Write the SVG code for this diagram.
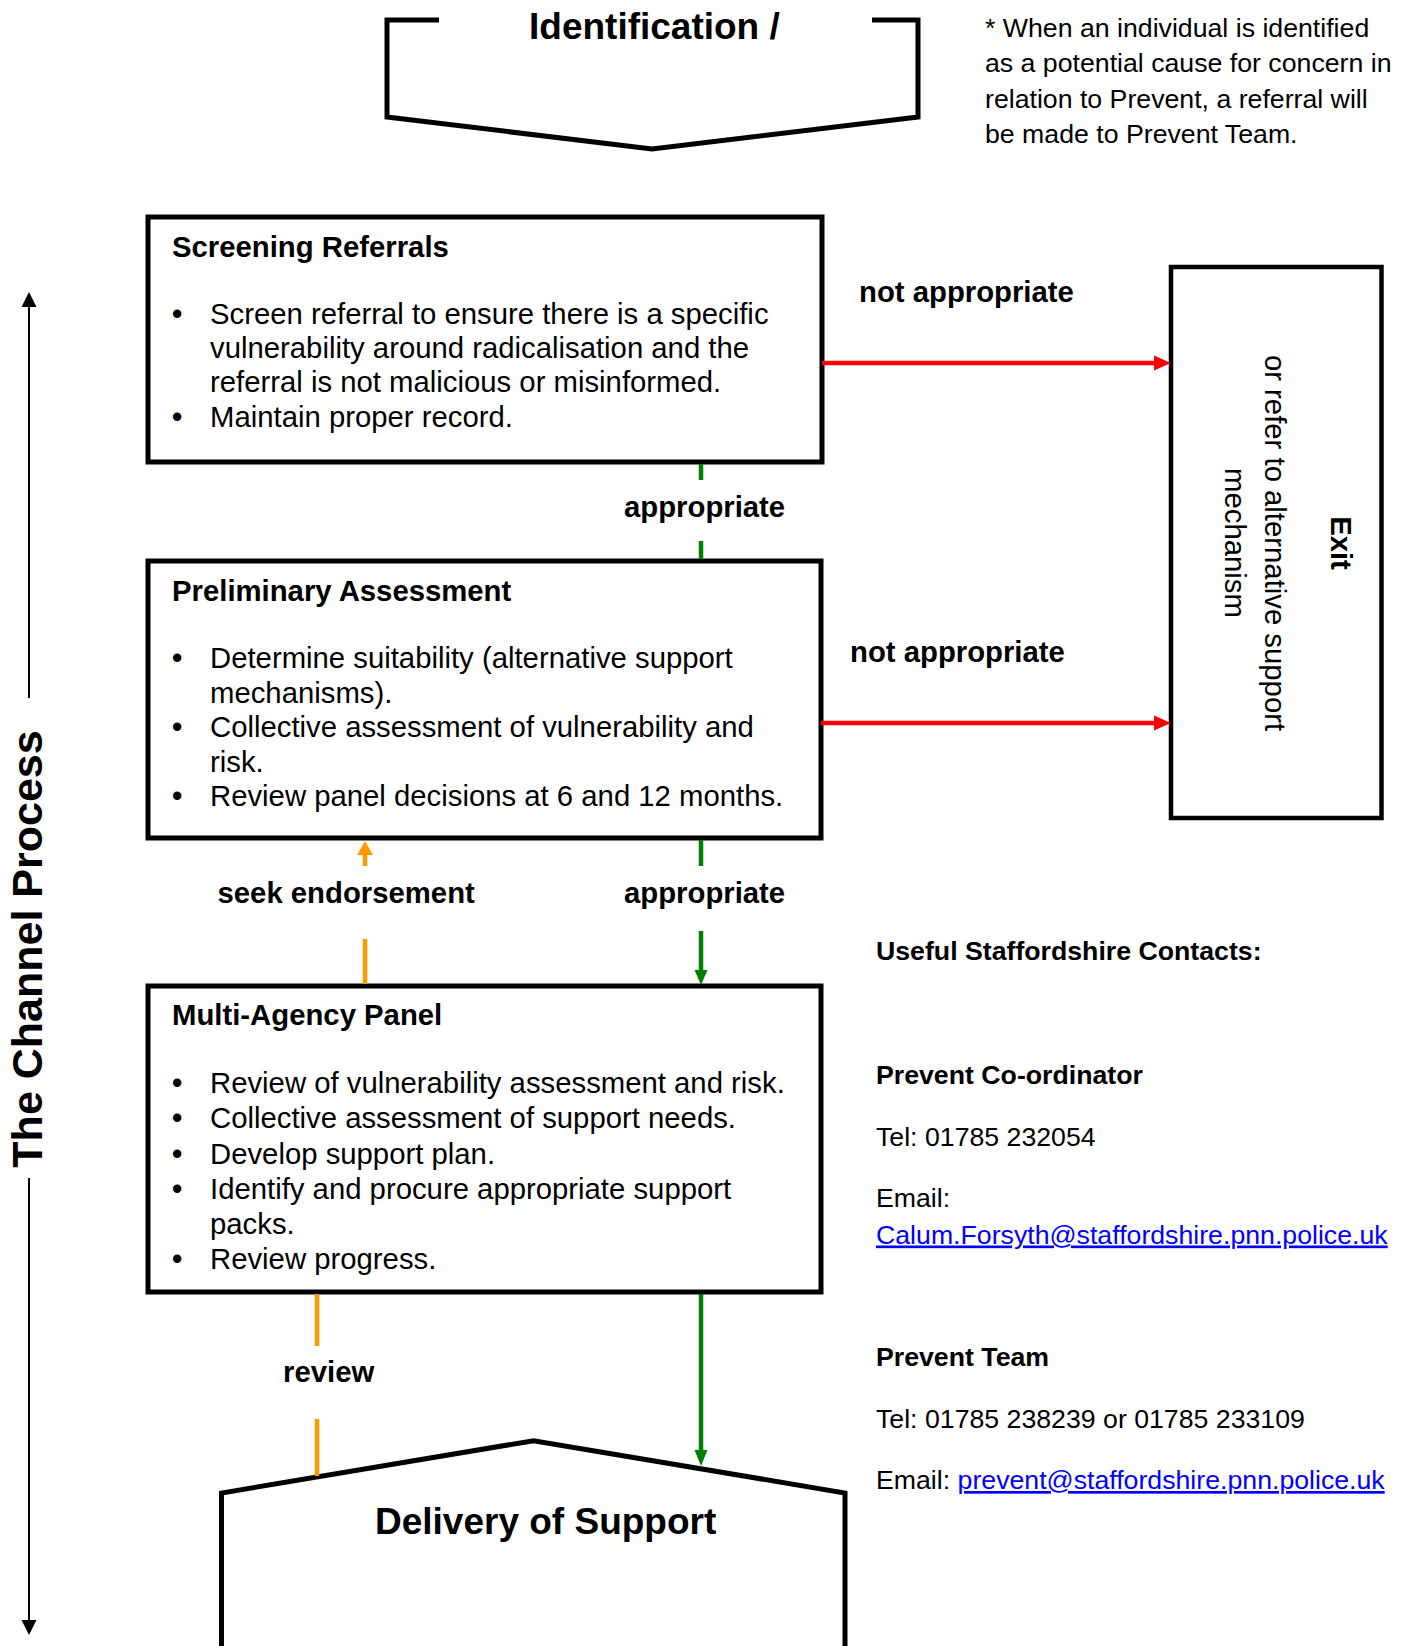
<svg xmlns="http://www.w3.org/2000/svg" width="1405" height="1646" viewBox="0 0 1405 1646">
<style>
text{font-family:"Liberation Sans",Arial,sans-serif;fill:#000}
.b{font-weight:bold}
.h{font-size:29.3px;font-weight:bold}
.t{font-size:29.3px}
.bu{font-size:29.3px;font-weight:bold}
.s{font-size:26.7px}
.big{font-size:37px;font-weight:bold}
.box{fill:#fff;stroke:#000;stroke-width:5}
.lnk{fill:#0000ff;text-decoration:underline}
.red{stroke:#ff0000;stroke-width:4.5;fill:none}
.grn{stroke:#008000;stroke-width:4.5;fill:none}
.org{stroke:#ff9900;stroke-width:4.5;fill:none}
</style>
<g id="identification">
<polyline points="439,20 387,20 387,117 652,149 918,117 918,20 872,20" fill="none" stroke="#000" stroke-width="5"/>
<text class="big" x="529" y="39">Identification /</text>
</g>
<g id="note">
<text class="s" x="985" y="36.5">* When an individual is identified</text>
<text class="s" x="985" y="72">as a potential cause for concern in</text>
<text class="s" x="985" y="107.5">relation to Prevent, a referral will</text>
<text class="s" x="985" y="143">be made to Prevent Team.</text>
</g>
<g id="screening">
<rect class="box" x="148" y="217" width="674" height="245"/>
<text class="h" x="172" y="257">Screening Referrals</text>
<text class="bu" x="172" y="324">•</text>
<text class="t" x="210" y="324">Screen referral to ensure there is a specific</text>
<text class="t" x="210" y="358">vulnerability around radicalisation and the</text>
<text class="t" x="210" y="392">referral is not malicious or misinformed.</text>
<text class="bu" x="172" y="426.5">•</text>
<text class="t" x="210" y="426.5">Maintain proper record.</text>
</g>
<g id="preliminary">
<rect class="box" x="148" y="561" width="673" height="277"/>
<text class="h" x="172" y="601">Preliminary Assessment</text>
<text class="bu" x="172" y="668">•</text>
<text class="t" x="210" y="668">Determine suitability (alternative support</text>
<text class="t" x="210" y="702.5">mechanisms).</text>
<text class="bu" x="172" y="737">•</text>
<text class="t" x="210" y="737">Collective assessment of vulnerability and</text>
<text class="t" x="210" y="771.5">risk.</text>
<text class="bu" x="172" y="806">•</text>
<text class="t" x="210" y="806">Review panel decisions at 6 and 12 months.</text>
</g>
<g id="multiagency">
<rect class="box" x="148" y="986" width="673" height="306"/>
<text class="h" x="172" y="1025">Multi-Agency Panel</text>
<text class="bu" x="172" y="1093">•</text>
<text class="t" x="210" y="1093">Review of vulnerability assessment and risk.</text>
<text class="bu" x="172" y="1128">•</text>
<text class="t" x="210" y="1128">Collective assessment of support needs.</text>
<text class="bu" x="172" y="1163.5">•</text>
<text class="t" x="210" y="1163.5">Develop support plan.</text>
<text class="bu" x="172" y="1198.5">•</text>
<text class="t" x="210" y="1198.5">Identify and procure appropriate support</text>
<text class="t" x="210" y="1233.5">packs.</text>
<text class="bu" x="172" y="1269">•</text>
<text class="t" x="210" y="1269">Review progress.</text>
</g>
<g id="exit">
<rect x="1171" y="267" width="210.5" height="551" fill="#fff" stroke="#000" stroke-width="4.5"/>
<text class="h" text-anchor="middle" transform="translate(1331,543) rotate(90)">Exit</text>
<text class="t" text-anchor="middle" transform="translate(1265,543) rotate(90)">or refer to alternative support</text>
<text class="t" text-anchor="middle" transform="translate(1225,543) rotate(90)">mechanism</text>
</g>
<g id="delivery">
<polyline points="221.5,1646 221.5,1493 533.6,1440.7 845,1493 845,1646" fill="#fff" stroke="#000" stroke-width="5"/>
<text class="big" x="375" y="1534">Delivery of Support</text>
</g>
<g id="channel">
<text class="b" style="font-size:43px" text-anchor="middle" transform="translate(42,949) rotate(-90)">The Channel Process</text>
</g>
<g id="contacts">
<text class="s b" x="876" y="959.5">Useful Staffordshire Contacts:</text>
<text class="s b" x="876" y="1083.5">Prevent Co-ordinator</text>
<text class="s" x="876" y="1146">Tel: 01785 232054</text>
<text class="s" x="876" y="1207">Email:</text>
<text class="s lnk" x="876" y="1243.5">Calum.Forsyth@staffordshire.pnn.police.uk</text>
<text class="s b" x="876" y="1366">Prevent Team</text>
<text class="s" x="876" y="1428">Tel: 01785 238239 or 01785 233109</text>
<text class="s" x="876" y="1489">Email: <tspan class="lnk">prevent@staffordshire.pnn.police.uk</tspan></text>
</g>
<g id="connectors">
<line x1="29" y1="305" x2="29" y2="698" stroke="#000" stroke-width="2"/>
<polygon points="29,292 21.5,307 36.5,307" fill="#000"/>
<line x1="29" y1="1178" x2="29" y2="1622" stroke="#000" stroke-width="2"/>
<polygon points="29,1635 21.5,1620 36.5,1620" fill="#000"/>
<line class="red" x1="822" y1="363" x2="1156" y2="363"/>
<polygon points="1154,355.5 1171,363 1154,370.5" fill="#ff0000"/>
<line class="red" x1="821" y1="723" x2="1156" y2="723"/>
<polygon points="1154,715.5 1171,723 1154,730.5" fill="#ff0000"/>
<line class="grn" x1="701" y1="464" x2="701" y2="480"/>
<line class="grn" x1="701" y1="541" x2="701" y2="559"/>
<line class="grn" x1="701" y1="840" x2="701" y2="866"/>
<line class="grn" x1="701" y1="931" x2="701" y2="972"/>
<polygon points="694.5,970 707.5,970 701,985" fill="#008000"/>
<line class="grn" x1="701" y1="1294" x2="701" y2="1452"/>
<polygon points="694.5,1450 707.5,1450 701,1466" fill="#008000"/>
<line class="org" x1="365" y1="984" x2="365" y2="939"/>
<line class="org" x1="365" y1="866" x2="365" y2="853"/>
<polygon points="357,855 373,855 365,841" fill="#ff9900"/>
<line class="org" x1="317" y1="1294" x2="317" y2="1346"/>
<line class="org" x1="317" y1="1419" x2="317" y2="1476"/>
<text class="h" x="859" y="302">not appropriate</text>
<text class="h" x="850" y="662">not appropriate</text>
<text class="h" x="624" y="517">appropriate</text>
<text class="h" x="624" y="903">appropriate</text>
<text class="h" x="217.5" y="903">seek endorsement</text>
<text class="h" x="283" y="1382">review</text>
</g>
</svg>
